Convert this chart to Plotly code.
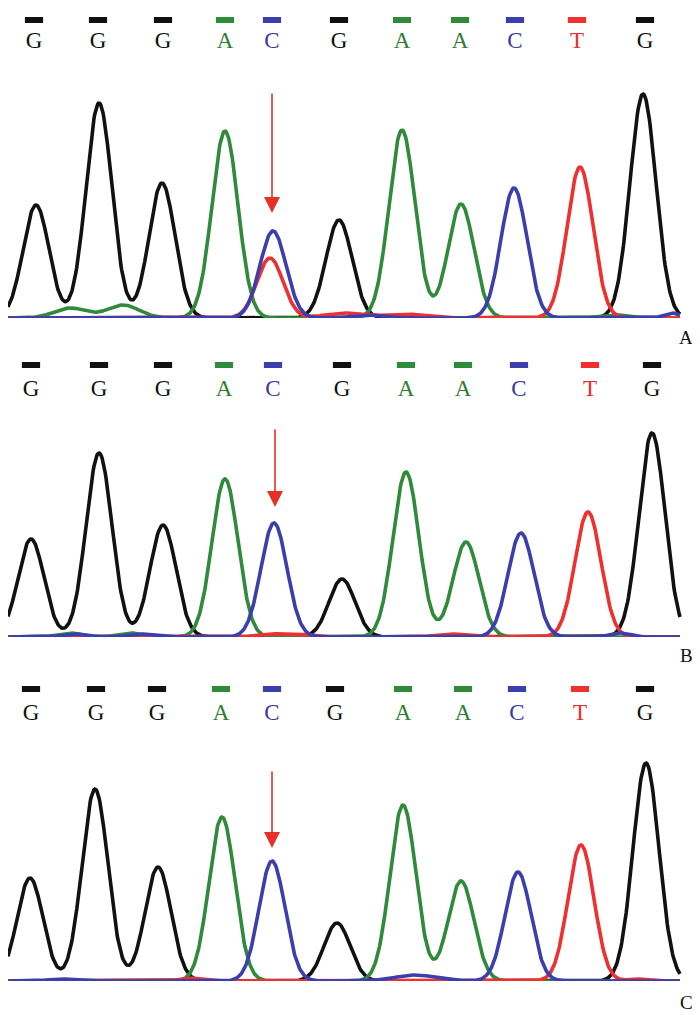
import numpy as np
import plotly.graph_objects as go

# base calls (same sequence in all three panels)
BASES = ['G', 'G', 'G', 'A', 'C', 'G', 'A', 'A', 'C', 'T', 'G']

# call positions along the scan axis, per panel
CALL_X_A = [34, 98, 163, 225, 272, 339, 402, 460, 515, 577, 645]
CALL_X_B = [31, 99, 163, 224, 273, 342, 406, 463, 519, 590, 652]
CALL_X_C = [31, 96, 157, 221, 272, 335, 403, 463, 517, 580, 645]

# main peaks: (channel, position, height)
PEAKS_A = [('G', 36, 113), ('G', 99, 215), ('G', 162, 135), ('A', 225, 187),
           ('C', 273, 87), ('T', 270, 60), ('G', 339, 98), ('A', 402, 188),
           ('A', 461, 114), ('C', 514, 130), ('T', 580, 151), ('G', 643, 224)]
PEAKS_B = [('G', 31, 98), ('G', 99, 184), ('G', 163, 112), ('A', 225, 158),
           ('C', 274, 114), ('G', 342, 58), ('A', 406, 165), ('A', 466, 95),
           ('C', 521, 104), ('T', 588, 125), ('G', 652, 204)]
PEAKS_C = [('G', 30, 103), ('G', 95, 192), ('G', 158, 114), ('A', 222, 164),
           ('C', 272, 120), ('G', 337, 58), ('A', 403, 176), ('A', 461, 100),
           ('C', 518, 109), ('T', 581, 136), ('G', 646, 218)]

# small background bumps: (channel, position, height, width)
NOISE_A = [('A', 70, 10, 16), ('A', 123, 13, 16), ('T', 345, 5, 20), ('T', 405, 4, 18),
           ('C', 365, 3, 15), ('A', 615, 3, 15), ('C', 672, 5, 8)]
NOISE_B = [('A', 70, 4, 12), ('A', 130, 4, 12), ('C', 75, 3, 12), ('C', 140, 3, 12),
           ('T', 270, 3, 14), ('T', 450, 3, 14), ('C', 620, 4, 10), ('T', 300, 3, 12)]
NOISE_C = [('C', 415, 6, 20), ('C', 60, 2, 12), ('T', 190, 3, 10), ('T', 640, 2, 10)]

# panel label, arrow (position, tail height, tip height)
PANELS = [
    dict(label='A', calls=CALL_X_A, peaks=PEAKS_A, noise=NOISE_A, arrow=(272, 226, 105)),
    dict(label='B', calls=CALL_X_B, peaks=PEAKS_B, noise=NOISE_B, arrow=(275, 209, 130)),
    dict(label='C', calls=CALL_X_C, peaks=PEAKS_C, noise=NOISE_C, arrow=(272, 211, 133)),
]

LINE_COL = {'G': '#111111', 'A': '#2f8a3a', 'C': '#3b3fae', 'T': '#ee3030'}
TEXT_COL = {'G': '#111111', 'A': '#2e7d32', 'C': '#3a3a9e', 'T': '#ee2a2a'}
SIGMA = 13

# page pixel layout; the html body has an 8px margin, so the figure is shifted
OFF = 8
W, H = 700 - OFF, 1015 - OFF
BOX = [(0, 318), (340, 637), (660, 981)]   # (top, baseline) of each panel
SQ_PX = [20, 365, 689]
LET_PX = [42, 390, 714]
LABEL_PX = [337, 655, 1002]


def py(v):
    # page pixel row -> paper fraction
    return 1 - (v - OFF) / H


xs = np.linspace(OFF, 680, 900)

fig = go.Figure()
layout = dict(width=W, height=H, margin=dict(l=0, r=0, t=0, b=0),
              paper_bgcolor='white', plot_bgcolor='white', showlegend=False)
annotations = []

for i, p in enumerate(PANELS):
    n = '' if i == 0 else str(i + 1)
    xa, ya = 'x' + n, 'y' + n
    top, base = BOX[i]
    top = max(top, OFF)
    layout['xaxis' + n] = dict(domain=[0, 1], range=[OFF, 700], visible=False, fixedrange=True)
    layout['yaxis' + n] = dict(domain=[py(base), py(top)], range=[0, base - top],
                               visible=False, fixedrange=True)

    for ch in ['G', 'A', 'T', 'C']:
        y = np.zeros_like(xs)
        for c, x0, h in p['peaks']:
            if c == ch:
                y += h * np.exp(-(xs - x0) ** 2 / (2 * SIGMA ** 2))
        for c, x0, h, w in p['noise']:
            if c == ch:
                y += h * np.exp(-(xs - x0) ** 2 / (2 * w ** 2))
        fig.add_trace(go.Scatter(x=xs, y=y, mode='lines', xaxis=xa, yaxis=ya,
                                 line=dict(color=LINE_COL[ch], width=3.6),
                                 hoverinfo='skip', cliponaxis=False))

    # base call squares
    fig.add_trace(go.Scatter(x=p['calls'], y=[base - SQ_PX[i]] * len(BASES), mode='markers',
                             xaxis=xa, yaxis=ya, hoverinfo='skip', cliponaxis=False,
                             marker=dict(symbol='line-ew', size=13,
                                         line=dict(width=6, color=[LINE_COL[b] for b in BASES]))))
    # base call letters
    fig.add_trace(go.Scatter(x=p['calls'], y=[base - LET_PX[i]] * len(BASES), mode='text',
                             text=BASES, xaxis=xa, yaxis=ya, hoverinfo='skip', cliponaxis=False,
                             textfont=dict(family='Liberation Serif', size=23,
                                           color=[TEXT_COL[b] for b in BASES])))

    ax_, tail, tip = p['arrow']
    annotations.append(dict(x=ax_, y=tip, ax=ax_, ay=tail, xref=xa, yref=ya,
                            axref=xa, ayref=ya, text='', showarrow=True,
                            arrowhead=2, arrowsize=2.0, arrowwidth=1.6, arrowcolor='#e8302a'))
    annotations.append(dict(x=(686 - OFF) / W, y=py(LABEL_PX[i]), xref='paper', yref='paper',
                            xanchor='center', yanchor='middle',
                            text=p['label'], showarrow=False,
                            font=dict(family='Liberation Serif', size=19, color='#111111')))

layout['annotations'] = annotations
fig.update_layout(**layout)
fig.write_html('out.html')
